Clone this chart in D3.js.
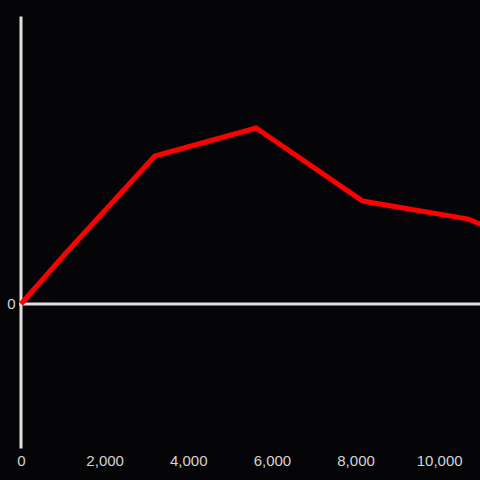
<!DOCTYPE html>
<html>
<head>
<meta charset="utf-8">
<script src="https://cdn.jsdelivr.net/npm/d3@7"></script>
<style>
html,body{margin:0;padding:0;background:#050407;}
svg{display:block;}
</style>
</head>
<body>
<script>
const xValues = [0, 1050, 3200, 5620, 8170, 10700, 11200];
const yValues = [0, 0.347, 1.028, 1.222, 0.715, 0.590, 0.526];
const xTicks = [0, 2000, 4000, 6000, 8000, 10000];
const yTicks = [0];

const W = 480, H = 480;
const svg = d3.select("body").append("svg").attr("width", W).attr("height", H)
  .style("background", "#050407");

const x = d3.scaleLinear().domain([0, 11000]).range([21, 481]);
const y = d3.scaleLinear().domain([-1, 2]).range([448, 16]);

// x tick labels at bottom
const gx = svg.append("g").attr("transform", "translate(0,449)")
  .call(d3.axisBottom(x).tickValues(xTicks).tickSize(0).tickPadding(6).tickFormat(d3.format(",")));
gx.select(".domain").remove();
gx.selectAll("text").attr("fill", "#d4d4d4").style("font-family", "'Liberation Sans', Arial, sans-serif").style("font-size", "15px");

// y axis
const gy = svg.append("g").attr("transform", "translate(20.5,0)")
  .call(d3.axisLeft(y).tickValues(yTicks).tickSize(0).tickPadding(5).tickFormat(d3.format("d")));
gy.select(".domain").attr("stroke", "#e0e0e0").attr("stroke-width", 3);
gy.selectAll("text").attr("fill", "#d4d4d4").style("font-family", "'Liberation Sans', Arial, sans-serif").style("font-size", "15px");

// zero line
svg.append("line").attr("x1", 19).attr("x2", 480).attr("y1", y(0)).attr("y2", y(0))
  .attr("stroke", "#e0e0e0").attr("stroke-width", 3);

svg.append("clipPath").attr("id", "clip").append("rect")
  .attr("x", 0).attr("y", 0).attr("width", 480).attr("height", 480);

const data = xValues.map((v, i) => [v, yValues[i]]);
svg.append("path").datum(data)
  .attr("clip-path", "url(#clip)")
  .attr("fill", "none").attr("stroke", "#ff0000").attr("stroke-width", 5)
  .attr("d", d3.line().x(d => x(d[0])).y(d => y(d[1])));
</script>
</body>
</html>
